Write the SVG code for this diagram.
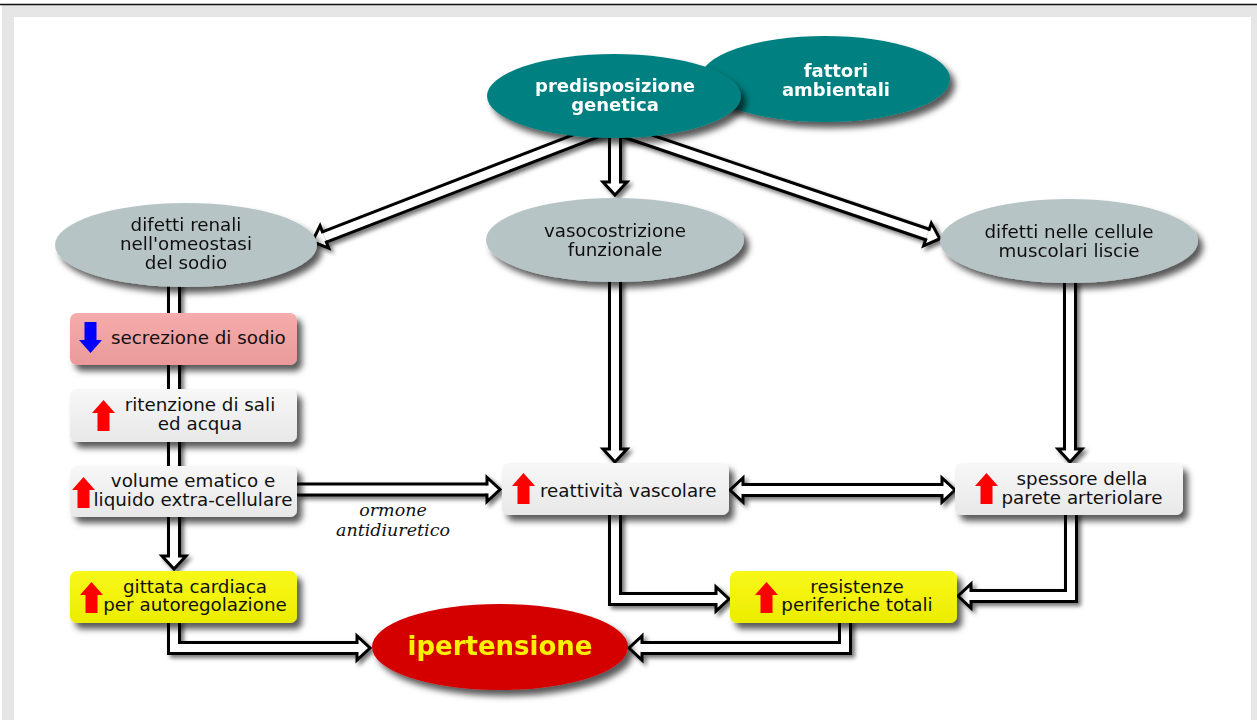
<svg xmlns="http://www.w3.org/2000/svg" xmlns:xlink="http://www.w3.org/1999/xlink" width="1257" height="720" viewBox="0 0 1257 720">
<style>
  .t { font-family: "DejaVu Sans", "Noto Sans", sans-serif; font-size: 18.3px; fill: #111; }
  .tb { font-family: "DejaVu Sans", "Noto Sans", sans-serif; font-size: 18px; font-weight: bold; fill: #fff; }
  .mid { text-anchor: middle; }
  .it { font-family: "DejaVu Serif", "Liberation Serif", serif; font-style: italic; font-size: 17.5px; fill: #111; text-anchor: middle; }
  .sh { stroke: #000; stroke-width: 14; fill: none; }
  .sw { stroke: #fff; stroke-width: 8; fill: none; marker-end: url(#head); }
  .gbox { fill: url(#gGray); }
  .ybox { fill: url(#gYel); }
  .pbox { fill: url(#gPink); }
  .gell { fill: #b7c4c6; }
  .tell { fill: #008080; }
  .up { fill: #ff0000; }
</style>
<defs>
  <filter id="ds" x="-20%" y="-20%" width="150%" height="160%">
    <feDropShadow dx="5" dy="6" stdDeviation="3" flood-color="#000" flood-opacity="0.65"/>
  </filter>
  <filter id="dsa" filterUnits="userSpaceOnUse" x="0" y="0" width="1257" height="720">
    <feDropShadow dx="3" dy="3" stdDeviation="2" flood-color="#000" flood-opacity="0.55"/>
  </filter>
  <linearGradient id="gGray" x1="0" y1="0" x2="0" y2="1">
    <stop offset="0" stop-color="#f7f7f7"/>
    <stop offset="1" stop-color="#e8e8e8"/>
  </linearGradient>
  <linearGradient id="gYel" x1="0" y1="0" x2="0" y2="1">
    <stop offset="0" stop-color="#f8f81a"/>
    <stop offset="1" stop-color="#ecec00"/>
  </linearGradient>
  <linearGradient id="gPink" x1="0" y1="0" x2="0" y2="1">
    <stop offset="0" stop-color="#f6acac"/>
    <stop offset="1" stop-color="#e99a9a"/>
  </linearGradient>
  <marker id="head" markerUnits="userSpaceOnUse" orient="auto-start-reverse" refX="0" refY="0" markerWidth="40" markerHeight="40" overflow="visible">
    <path d="M0,-5.5 L0,-12 L13,0 L0,12 L0,5.5" fill="#fff" stroke="#000" stroke-width="3" stroke-linecap="square"/>
  </marker>
  <path id="upArrow" d="M11.5,0 L23,13 L17.5,13 L17.5,31 L5.5,31 L5.5,13 L0,13 Z"/>
</defs>

<!-- frame -->
<rect x="0" y="0" width="1257" height="720" fill="#fff"/>
<rect x="2" y="5" width="1255" height="715" fill="#e6e6e6"/>
<rect x="14" y="17" width="1237" height="703" fill="#fff"/>
<line x1="0" y1="4.5" x2="1257" y2="4.5" stroke="#111" stroke-width="1.6"/>

<g id="connectors" filter="url(#dsa)">
  <g>
    <path class="sh" d="M606,128 L324.4,237"/>
    <path class="sh" d="M614,128 L927.5,234.5"/>
    <path class="sh" d="M615,128 L615,182"/>
    <path class="sw" d="M606,128 L324.4,237"/>
    <path class="sw" d="M614,128 L927.5,234.5"/>
    <path class="sw" d="M615,128 L615,182"/>
  </g>
  <g>
    <path class="sh" d="M174,280 L174,556"/>
    <path class="sw" d="M174,280 L174,556"/>
  </g>
  <g>
    <path class="sh" d="M615,280 L615,449"/>
    <path class="sw" d="M615,280 L615,449"/>
  </g>
  <g>
    <path class="sh" d="M1070,280 L1070,449"/>
    <path class="sw" d="M1070,280 L1070,449"/>
  </g>
  <g>
    <path class="sh" d="M296,489.5 L487,489.5"/>
    <path class="sw" d="M296,489.5 L487,489.5"/>
  </g>
  <g>
    <path class="sh" d="M743,490 L942,490"/>
    <path class="sw" d="M743,490 L942,490" style="marker-start:url(#head)"/>
  </g>
  <g>
    <path class="sh" d="M615,512 L615,599 L716,599"/>
    <path class="sw" d="M615,512 L615,599 L716,599"/>
  </g>
  <g>
    <path class="sh" d="M1071,512 L1071,596 L971,596"/>
    <path class="sw" d="M1071,512 L1071,596 L971,596"/>
  </g>
  <g>
    <path class="sh" d="M174,620 L174,648 L357,648"/>
    <path class="sw" d="M174,620 L174,648 L357,648"/>
  </g>
  <g>
    <path class="sh" d="M845,620 L845,648 L642,648"/>
    <path class="sw" d="M845,620 L845,648 L642,648"/>
  </g>
</g>

<g id="fattori-ambientali" filter="url(#ds)">
  <ellipse class="tell" cx="825" cy="79" rx="125" ry="43"/>
  <text class="tb mid" x="836" y="77">fattori</text>
  <text class="tb mid" x="836" y="96">ambientali</text>
</g>
<g id="predisposizione-genetica" filter="url(#ds)">
  <ellipse class="tell" cx="614" cy="96" rx="127" ry="42"/>
  <text class="tb mid" x="615" y="92">predisposizione</text>
  <text class="tb mid" x="615" y="111">genetica</text>
</g>

<g id="difetti-renali" filter="url(#ds)">
  <ellipse class="gell" cx="186" cy="245" rx="131" ry="42"/>
  <text class="t mid" x="186" y="231">difetti renali</text>
  <text class="t mid" x="186" y="250">nell'omeostasi</text>
  <text class="t mid" x="186" y="269">del sodio</text>
</g>
<g id="vasocostrizione" filter="url(#ds)">
  <ellipse class="gell" cx="615" cy="240" rx="129" ry="42"/>
  <text class="t mid" x="615" y="237">vasocostrizione</text>
  <text class="t mid" x="615" y="256">funzionale</text>
</g>
<g id="difetti-cellule" filter="url(#ds)">
  <ellipse class="gell" cx="1069" cy="241" rx="129" ry="42"/>
  <text class="t mid" x="1069" y="238">difetti nelle cellule</text>
  <text class="t mid" x="1069" y="257">muscolari liscie</text>
</g>

<g id="secrezione-sodio">
  <rect class="pbox" x="70" y="313" width="227" height="52" rx="7" filter="url(#ds)"/>
  <use xlink:href="#upArrow" href="#upArrow" transform="translate(102,353) rotate(180)" fill="#0000ff"/>
  <text class="t" x="111" y="344">secrezione di sodio</text>
</g>
<g id="ritenzione">
  <rect class="gbox" x="70" y="389" width="227" height="53" rx="7" filter="url(#ds)"/>
  <use xlink:href="#upArrow" href="#upArrow" class="up" x="92" y="400"/>
  <text class="t mid" x="200" y="411">ritenzione di sali</text>
  <text class="t mid" x="200" y="430">ed acqua</text>
</g>
<g id="volume-ematico">
  <rect class="gbox" x="70" y="466" width="227" height="51" rx="7" filter="url(#ds)"/>
  <use xlink:href="#upArrow" href="#upArrow" class="up" x="72" y="477"/>
  <text class="t mid" x="193" y="487">volume ematico e</text>
  <text class="t mid" x="193" y="506">liquido extra-cellulare</text>
</g>
<g id="gittata-cardiaca">
  <rect class="ybox" x="70" y="571" width="227" height="52" rx="7" filter="url(#ds)"/>
  <use xlink:href="#upArrow" href="#upArrow" class="up" x="80" y="582"/>
  <text class="t mid" x="195" y="592.5">gittata cardiaca</text>
  <text class="t mid" x="195" y="611">per autoregolazione</text>
</g>
<g id="reattivita-vascolare">
  <rect class="gbox" x="502" y="463" width="227" height="52" rx="7" filter="url(#ds)"/>
  <use xlink:href="#upArrow" href="#upArrow" class="up" x="512" y="473"/>
  <text class="t" x="540" y="497">reattività vascolare</text>
</g>
<g id="spessore-parete">
  <rect class="gbox" x="955" y="463" width="228" height="52" rx="7" filter="url(#ds)"/>
  <use xlink:href="#upArrow" href="#upArrow" class="up" x="975" y="473"/>
  <text class="t mid" x="1082" y="485">spessore della</text>
  <text class="t mid" x="1082" y="503.5">parete arteriolare</text>
</g>
<g id="resistenze-periferiche">
  <rect class="ybox" x="730" y="571" width="227" height="52" rx="7" filter="url(#ds)"/>
  <use xlink:href="#upArrow" href="#upArrow" class="up" x="755" y="582"/>
  <text class="t mid" x="857" y="592.5">resistenze</text>
  <text class="t mid" x="857" y="611">periferiche totali</text>
</g>
<g id="ipertensione" filter="url(#ds)">
  <ellipse cx="500" cy="647" rx="128" ry="43" fill="#d40000"/>
  <text x="500" y="655" text-anchor="middle" font-family="DejaVu Sans, sans-serif" font-size="26" font-weight="bold" fill="#ffef00">ipertensione</text>
</g>

<g id="label-ormone">
  <text class="it" x="393" y="515.5">ormone</text>
  <text class="it" x="393" y="535.5">antidiuretico</text>
</g>
</svg>
